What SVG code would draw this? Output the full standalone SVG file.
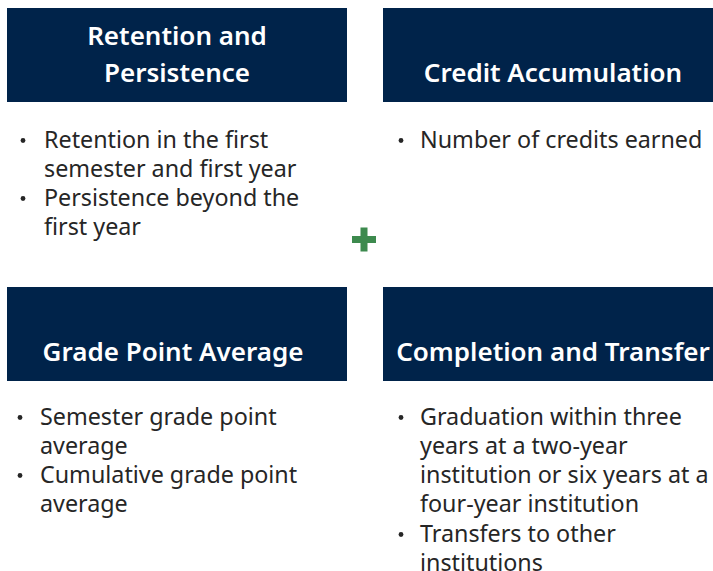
<svg xmlns="http://www.w3.org/2000/svg" width="713" height="571" viewBox="0 0 713 571">
<style>
.box{fill:#00234a}
.h{font-family:"Noto Sans","Open Sans",sans-serif;font-weight:600;font-size:26px;fill:#ffffff;text-anchor:middle}
.b{font-family:"Noto Sans","Open Sans",sans-serif;font-size:23.3px;fill:#262626}
.dot{fill:#262626}
</style>
<rect width="713" height="571" fill="#ffffff"/>
<g id="node-retention">
<rect class="box" x="7" y="8" width="340" height="94"/>
<text class="h" x="177" y="45">Retention and</text>
<text class="h" x="177" y="82">Persistence</text>
<circle class="dot" cx="23" cy="140.5" r="2.4"/>
<text class="b" x="44" y="148">Retention in the first</text>
<text class="b" x="44" y="177">semester and first year</text>
<circle class="dot" cx="23" cy="198.5" r="2.4"/>
<text class="b" x="44" y="206">Persistence beyond the</text>
<text class="b" x="44" y="235">first year</text>
</g>
<g id="node-credit">
<rect class="box" x="383" y="8" width="340" height="94"/>
<text class="h" x="553" y="82">Credit Accumulation</text>
<circle class="dot" cx="401" cy="140.5" r="2.4"/>
<text class="b" x="420" y="148">Number of credits earned</text>
</g>
<g id="node-gpa">
<rect class="box" x="7" y="287" width="340" height="94"/>
<text class="h" x="173" y="361">Grade Point Average</text>
<circle class="dot" cx="20" cy="417.5" r="2.4"/>
<text class="b" x="40" y="425">Semester grade point</text>
<text class="b" x="40" y="454">average</text>
<circle class="dot" cx="20" cy="475.5" r="2.4"/>
<text class="b" x="40" y="483">Cumulative grade point</text>
<text class="b" x="40" y="512">average</text>
</g>
<g id="node-completion">
<rect class="box" x="383" y="287" width="340" height="94"/>
<text class="h" x="553" y="361">Completion and Transfer</text>
<circle class="dot" cx="401" cy="417.5" r="2.4"/>
<text class="b" x="420" y="425">Graduation within three</text>
<text class="b" x="420" y="454">years at a two-year</text>
<text class="b" x="420" y="483">institution or six years at a</text>
<text class="b" x="420" y="512">four-year institution</text>
<circle class="dot" cx="401" cy="534.5" r="2.4"/>
<text class="b" x="420" y="542">Transfers to other</text>
<text class="b" x="420" y="571">institutions</text>
</g>
<g id="connectors">
<path d="M352 239.5H376M364 227.5V251.5" stroke="#3d8a4e" stroke-width="7" fill="none"/>
</g>
</svg>
